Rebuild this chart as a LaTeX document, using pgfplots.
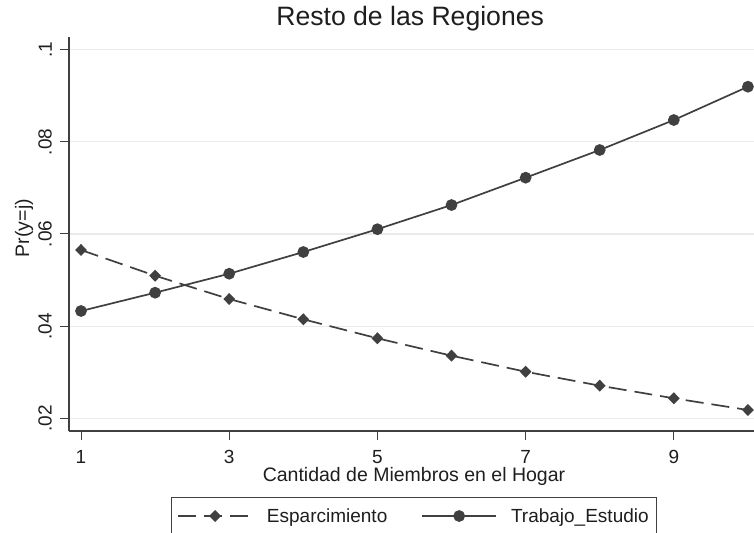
\documentclass[border=0pt]{standalone}
\usepackage{fontspec}
\setmainfont{Liberation Sans}
\usepackage{pgfplots}
\pgfplotsset{compat=1.18}

\definecolor{ln}{HTML}{404040}
\definecolor{txt}{HTML}{1E1E1E}
\definecolor{grd}{HTML}{EAEAEA}

\begin{document}
\begin{tikzpicture}
\begin{axis}[
    at={(0,0)}, anchor=south west,
    scale only axis,
    width=685bp, height=394bp,
    xmin=0.838, xmax=10.082,
    ymin=0.017244, ymax=0.102756,
    axis x line*=bottom, axis y line*=left,
    axis line style={color=ln, line width=1.1bp},
    tick align=outside, major tick length=9bp,
    tick style={color=ln, line width=1bp},
    xtick={1,3,5,7,9},
    ytick={0.02,0.04,0.06,0.08,0.1},
    yticklabels={.02,.04,.06,.08,.1},
    ymajorgrids=true,
    grid style={color=grd, line width=1.3bp},
    /pgf/number format/assume math mode=true,
    tick label style={font=\fontsize{19bp}{22bp}\selectfont, text=txt},
    yticklabel style={xshift=-8bp, rotate=90, anchor=south, inner sep=0pt},
    xticklabel style={inner sep=0pt, yshift=-10bp},
    title={Resto de las Regiones},
    title style={at={(axis description cs:0.498,1)}, anchor=base, yshift=6bp,
        font=\fontsize{26.6bp}{30bp}\selectfont, text=txt},
    xlabel={Cantidad de Miembros en el Hogar},
    xlabel style={at={(axis description cs:0.5036,0)}, anchor=base, yshift=-50bp,
        font=\fontsize{19.5bp}{22bp}\selectfont, text=txt},
    ylabel={Pr(y=j)},
    ylabel style={at={(axis description cs:-0.0657,0.515)}, rotate=0, anchor=center,
        font=\fontsize{19.5bp}{22bp}\selectfont, text=txt},
    legend columns=2,
    legend style={at={(axis description cs:0.5036,-0.1675)}, anchor=north,
        draw=ln, line width=0.8bp, inner xsep=6bp, inner ysep=9bp,
        font=\fontsize{19bp}{22bp}\selectfont, text=txt,
        /tikz/every odd column/.append style={column sep=12bp},
        /tikz/every even column/.append style={column sep=32bp}},
    legend image code/.code={
        \draw[mark repeat=2, mark phase=2, #1] plot coordinates {(0bp,0bp) (37bp,0bp) (74bp,0bp)};
    },
    clip=false,
]
\addplot[color=ln, line width=1.7bp, dash pattern=on 18bp off 8bp,
    mark=diamond*, mark size=4.8bp, mark options={solid, fill=ln, xscale=1.3}]
    coordinates {
    (1,0.05653)(2,0.05095)(3,0.04589)(4,0.04149)(5,0.03736)
    (6,0.03359)(7,0.03011)(8,0.02708)(9,0.02434)(10,0.02180)
    };
\addlegendentry{Esparcimiento}
\addplot[color=ln, line width=1.7bp,
    mark=*, mark size=5bp, mark options={solid, fill=ln}]
    coordinates {
    (1,0.04329)(2,0.04726)(3,0.05138)(4,0.05609)(5,0.06104)
    (6,0.06629)(7,0.07222)(8,0.07823)(9,0.08474)(10,0.09197)
    };
\addlegendentry{Trabajo\_Estudio}
\end{axis}
\pgfresetboundingbox
\path (-69bp,-102bp) rectangle (685bp,431bp);
\end{tikzpicture}
\end{document}
